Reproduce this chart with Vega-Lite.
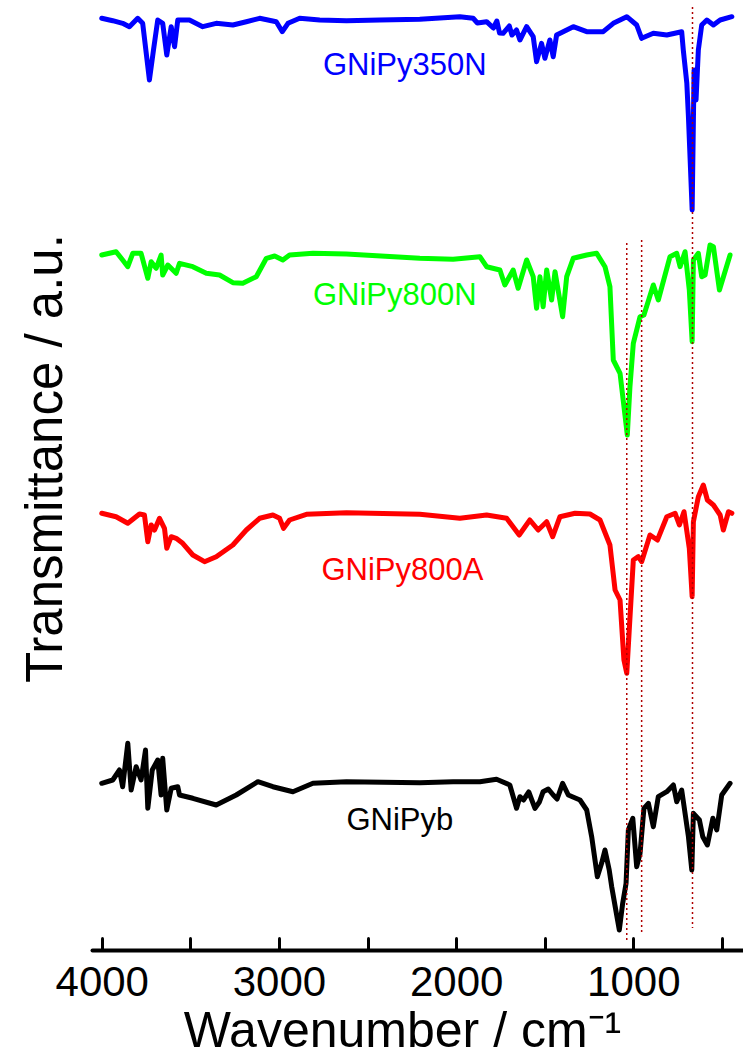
{
  "$schema": "https://vega.github.io/schema/vega-lite/v6.json",
  "width": 651,
  "height": 950,
  "autosize": {"type": "none"},
  "padding": {"left": 92, "top": 0, "right": 0, "bottom": 107},
  "background": "white",
  "config": {"view": {"stroke": null}},
  "datasets": {
    "spectra": [
      {"sample": "GNiPy350N", "w": 4000, "t": 92.97}, {"sample": "GNiPy350N", "w": 3938, "t": 92.73}, {"sample": "GNiPy350N", "w": 3882, "t": 92.47}, {"sample": "GNiPy350N", "w": 3844, "t": 92.13}, {"sample": "GNiPy350N", "w": 3797, "t": 92.97}, {"sample": "GNiPy350N", "w": 3769, "t": 92.47}, {"sample": "GNiPy350N", "w": 3731, "t": 86.8}, {"sample": "GNiPy350N", "w": 3708, "t": 89.8}, {"sample": "GNiPy350N", "w": 3684, "t": 92.8}, {"sample": "GNiPy350N", "w": 3656, "t": 92.47}, {"sample": "GNiPy350N", "w": 3633, "t": 89.3}, {"sample": "GNiPy350N", "w": 3608, "t": 92.13}, {"sample": "GNiPy350N", "w": 3589, "t": 90.13}, {"sample": "GNiPy350N", "w": 3571, "t": 92.8}, {"sample": "GNiPy350N", "w": 3505, "t": 92.8}, {"sample": "GNiPy350N", "w": 3430, "t": 92.13}, {"sample": "GNiPy350N", "w": 3354, "t": 92.47}, {"sample": "GNiPy350N", "w": 3260, "t": 92.3}, {"sample": "GNiPy350N", "w": 3184, "t": 92.63}, {"sample": "GNiPy350N", "w": 3109, "t": 92.97}, {"sample": "GNiPy350N", "w": 3015, "t": 92.63}, {"sample": "GNiPy350N", "w": 2981, "t": 91.63}, {"sample": "GNiPy350N", "w": 2949, "t": 92.47}, {"sample": "GNiPy350N", "w": 2883, "t": 92.97}, {"sample": "GNiPy350N", "w": 2770, "t": 92.8}, {"sample": "GNiPy350N", "w": 2619, "t": 92.73}, {"sample": "GNiPy350N", "w": 2431, "t": 92.8}, {"sample": "GNiPy350N", "w": 2205, "t": 92.87}, {"sample": "GNiPy350N", "w": 1979, "t": 93.13}, {"sample": "GNiPy350N", "w": 1904, "t": 92.97}, {"sample": "GNiPy350N", "w": 1880, "t": 92.5}, {"sample": "GNiPy350N", "w": 1828, "t": 92.63}, {"sample": "GNiPy350N", "w": 1790, "t": 92.0}, {"sample": "GNiPy350N", "w": 1770, "t": 92.7}, {"sample": "GNiPy350N", "w": 1755, "t": 91.5}, {"sample": "GNiPy350N", "w": 1735, "t": 91.47}, {"sample": "GNiPy350N", "w": 1700, "t": 92.2}, {"sample": "GNiPy350N", "w": 1685, "t": 91.3}, {"sample": "GNiPy350N", "w": 1659, "t": 91.8}, {"sample": "GNiPy350N", "w": 1640, "t": 90.8}, {"sample": "GNiPy350N", "w": 1602, "t": 92.13}, {"sample": "GNiPy350N", "w": 1565, "t": 91.13}, {"sample": "GNiPy350N", "w": 1546, "t": 88.63}, {"sample": "GNiPy350N", "w": 1518, "t": 90.47}, {"sample": "GNiPy350N", "w": 1499, "t": 88.97}, {"sample": "GNiPy350N", "w": 1471, "t": 90.8}, {"sample": "GNiPy350N", "w": 1452, "t": 89.13}, {"sample": "GNiPy350N", "w": 1433, "t": 91.3}, {"sample": "GNiPy350N", "w": 1339, "t": 92.13}, {"sample": "GNiPy350N", "w": 1263, "t": 91.63}, {"sample": "GNiPy350N", "w": 1170, "t": 91.63}, {"sample": "GNiPy350N", "w": 1113, "t": 92.47}, {"sample": "GNiPy350N", "w": 1037, "t": 93.13}, {"sample": "GNiPy350N", "w": 981, "t": 92.3}, {"sample": "GNiPy350N", "w": 953, "t": 90.97}, {"sample": "GNiPy350N", "w": 887, "t": 91.47}, {"sample": "GNiPy350N", "w": 811, "t": 91.3}, {"sample": "GNiPy350N", "w": 727, "t": 91.63}, {"sample": "GNiPy350N", "w": 718, "t": 89.8}, {"sample": "GNiPy350N", "w": 698, "t": 86.47}, {"sample": "GNiPy350N", "w": 689, "t": 83.13}, {"sample": "GNiPy350N", "w": 668, "t": 73.8}, {"sample": "GNiPy350N", "w": 657, "t": 87.8}, {"sample": "GNiPy350N", "w": 646, "t": 84.8}, {"sample": "GNiPy350N", "w": 633, "t": 89.8}, {"sample": "GNiPy350N", "w": 614, "t": 92.3}, {"sample": "GNiPy350N", "w": 585, "t": 92.8}, {"sample": "GNiPy350N", "w": 548, "t": 92.3}, {"sample": "GNiPy350N", "w": 510, "t": 92.8}, {"sample": "GNiPy350N", "w": 444, "t": 93.13},

      {"sample": "GNiPy800N", "w": 4000, "t": 69.3}, {"sample": "GNiPy800N", "w": 3919, "t": 69.63}, {"sample": "GNiPy800N", "w": 3882, "t": 68.8}, {"sample": "GNiPy800N", "w": 3853, "t": 68.13}, {"sample": "GNiPy800N", "w": 3825, "t": 69.47}, {"sample": "GNiPy800N", "w": 3778, "t": 69.47}, {"sample": "GNiPy800N", "w": 3740, "t": 66.97}, {"sample": "GNiPy800N", "w": 3721, "t": 68.63}, {"sample": "GNiPy800N", "w": 3693, "t": 67.97}, {"sample": "GNiPy800N", "w": 3665, "t": 69.3}, {"sample": "GNiPy800N", "w": 3656, "t": 67.3}, {"sample": "GNiPy800N", "w": 3627, "t": 68.3}, {"sample": "GNiPy800N", "w": 3580, "t": 67.47}, {"sample": "GNiPy800N", "w": 3561, "t": 68.47}, {"sample": "GNiPy800N", "w": 3486, "t": 68.13}, {"sample": "GNiPy800N", "w": 3410, "t": 67.47}, {"sample": "GNiPy800N", "w": 3335, "t": 67.3}, {"sample": "GNiPy800N", "w": 3260, "t": 66.53}, {"sample": "GNiPy800N", "w": 3204, "t": 66.47}, {"sample": "GNiPy800N", "w": 3128, "t": 67.13}, {"sample": "GNiPy800N", "w": 3071, "t": 68.97}, {"sample": "GNiPy800N", "w": 3024, "t": 69.2}, {"sample": "GNiPy800N", "w": 2978, "t": 68.8}, {"sample": "GNiPy800N", "w": 2940, "t": 69.3}, {"sample": "GNiPy800N", "w": 2808, "t": 69.47}, {"sample": "GNiPy800N", "w": 2619, "t": 69.4}, {"sample": "GNiPy800N", "w": 2205, "t": 68.97}, {"sample": "GNiPy800N", "w": 2017, "t": 68.87}, {"sample": "GNiPy800N", "w": 1866, "t": 69.13}, {"sample": "GNiPy800N", "w": 1828, "t": 68.13}, {"sample": "GNiPy800N", "w": 1753, "t": 67.8}, {"sample": "GNiPy800N", "w": 1725, "t": 66.3}, {"sample": "GNiPy800N", "w": 1678, "t": 67.8}, {"sample": "GNiPy800N", "w": 1650, "t": 65.97}, {"sample": "GNiPy800N", "w": 1602, "t": 68.8}, {"sample": "GNiPy800N", "w": 1565, "t": 67.13}, {"sample": "GNiPy800N", "w": 1546, "t": 63.97}, {"sample": "GNiPy800N", "w": 1527, "t": 67.13}, {"sample": "GNiPy800N", "w": 1509, "t": 64.13}, {"sample": "GNiPy800N", "w": 1489, "t": 67.8}, {"sample": "GNiPy800N", "w": 1461, "t": 64.8}, {"sample": "GNiPy800N", "w": 1442, "t": 67.63}, {"sample": "GNiPy800N", "w": 1399, "t": 63.13}, {"sample": "GNiPy800N", "w": 1376, "t": 67.13}, {"sample": "GNiPy800N", "w": 1339, "t": 68.97}, {"sample": "GNiPy800N", "w": 1263, "t": 69.3}, {"sample": "GNiPy800N", "w": 1207, "t": 69.47}, {"sample": "GNiPy800N", "w": 1160, "t": 68.13}, {"sample": "GNiPy800N", "w": 1132, "t": 66.13}, {"sample": "GNiPy800N", "w": 1113, "t": 58.8}, {"sample": "GNiPy800N", "w": 1075, "t": 57.47}, {"sample": "GNiPy800N", "w": 1034, "t": 51.3}, {"sample": "GNiPy800N", "w": 1019, "t": 56.13}, {"sample": "GNiPy800N", "w": 1000, "t": 60.47}, {"sample": "GNiPy800N", "w": 962, "t": 63.13}, {"sample": "GNiPy800N", "w": 940, "t": 63.3}, {"sample": "GNiPy800N", "w": 887, "t": 66.3}, {"sample": "GNiPy800N", "w": 859, "t": 64.8}, {"sample": "GNiPy800N", "w": 793, "t": 69.13}, {"sample": "GNiPy800N", "w": 755, "t": 69.47}, {"sample": "GNiPy800N", "w": 736, "t": 68.13}, {"sample": "GNiPy800N", "w": 708, "t": 69.63}, {"sample": "GNiPy800N", "w": 684, "t": 65.8}, {"sample": "GNiPy800N", "w": 668, "t": 60.63}, {"sample": "GNiPy800N", "w": 661, "t": 68.8}, {"sample": "GNiPy800N", "w": 633, "t": 69.47}, {"sample": "GNiPy800N", "w": 614, "t": 67.13}, {"sample": "GNiPy800N", "w": 595, "t": 67.3}, {"sample": "GNiPy800N", "w": 567, "t": 70.3}, {"sample": "GNiPy800N", "w": 548, "t": 70.13}, {"sample": "GNiPy800N", "w": 514, "t": 65.8}, {"sample": "GNiPy800N", "w": 454, "t": 69.3},

      {"sample": "GNiPy800A", "w": 4000, "t": 43.47}, {"sample": "GNiPy800A", "w": 3919, "t": 43.13}, {"sample": "GNiPy800A", "w": 3853, "t": 42.47}, {"sample": "GNiPy800A", "w": 3787, "t": 43.4}, {"sample": "GNiPy800A", "w": 3759, "t": 43.3}, {"sample": "GNiPy800A", "w": 3740, "t": 40.63}, {"sample": "GNiPy800A", "w": 3721, "t": 42.3}, {"sample": "GNiPy800A", "w": 3702, "t": 41.8}, {"sample": "GNiPy800A", "w": 3674, "t": 42.97}, {"sample": "GNiPy800A", "w": 3646, "t": 41.97}, {"sample": "GNiPy800A", "w": 3633, "t": 39.97}, {"sample": "GNiPy800A", "w": 3608, "t": 41.13}, {"sample": "GNiPy800A", "w": 3580, "t": 40.97}, {"sample": "GNiPy800A", "w": 3543, "t": 40.47}, {"sample": "GNiPy800A", "w": 3486, "t": 39.3}, {"sample": "GNiPy800A", "w": 3420, "t": 38.63}, {"sample": "GNiPy800A", "w": 3354, "t": 39.13}, {"sample": "GNiPy800A", "w": 3260, "t": 40.3}, {"sample": "GNiPy800A", "w": 3184, "t": 41.8}, {"sample": "GNiPy800A", "w": 3109, "t": 42.97}, {"sample": "GNiPy800A", "w": 3034, "t": 43.3}, {"sample": "GNiPy800A", "w": 2996, "t": 42.97}, {"sample": "GNiPy800A", "w": 2974, "t": 41.97}, {"sample": "GNiPy800A", "w": 2940, "t": 42.8}, {"sample": "GNiPy800A", "w": 2845, "t": 43.37}, {"sample": "GNiPy800A", "w": 2619, "t": 43.53}, {"sample": "GNiPy800A", "w": 2205, "t": 43.37}, {"sample": "GNiPy800A", "w": 1979, "t": 42.97}, {"sample": "GNiPy800A", "w": 1828, "t": 43.3}, {"sample": "GNiPy800A", "w": 1715, "t": 42.97}, {"sample": "GNiPy800A", "w": 1644, "t": 41.3}, {"sample": "GNiPy800A", "w": 1584, "t": 42.8}, {"sample": "GNiPy800A", "w": 1537, "t": 41.8}, {"sample": "GNiPy800A", "w": 1489, "t": 42.63}, {"sample": "GNiPy800A", "w": 1455, "t": 41.13}, {"sample": "GNiPy800A", "w": 1414, "t": 43.13}, {"sample": "GNiPy800A", "w": 1329, "t": 43.47}, {"sample": "GNiPy800A", "w": 1245, "t": 43.4}, {"sample": "GNiPy800A", "w": 1188, "t": 42.8}, {"sample": "GNiPy800A", "w": 1132, "t": 40.3}, {"sample": "GNiPy800A", "w": 1103, "t": 35.8}, {"sample": "GNiPy800A", "w": 1075, "t": 34.8}, {"sample": "GNiPy800A", "w": 1053, "t": 28.8}, {"sample": "GNiPy800A", "w": 1037, "t": 27.47}, {"sample": "GNiPy800A", "w": 1023, "t": 31.8}, {"sample": "GNiPy800A", "w": 1000, "t": 38.8}, {"sample": "GNiPy800A", "w": 972, "t": 39.13}, {"sample": "GNiPy800A", "w": 953, "t": 38.63}, {"sample": "GNiPy800A", "w": 906, "t": 41.3}, {"sample": "GNiPy800A", "w": 864, "t": 40.8}, {"sample": "GNiPy800A", "w": 811, "t": 43.13}, {"sample": "GNiPy800A", "w": 764, "t": 43.47}, {"sample": "GNiPy800A", "w": 740, "t": 42.3}, {"sample": "GNiPy800A", "w": 714, "t": 43.63}, {"sample": "GNiPy800A", "w": 684, "t": 39.97}, {"sample": "GNiPy800A", "w": 668, "t": 35.13}, {"sample": "GNiPy800A", "w": 661, "t": 42.63}, {"sample": "GNiPy800A", "w": 633, "t": 45.13}, {"sample": "GNiPy800A", "w": 605, "t": 46.3}, {"sample": "GNiPy800A", "w": 582, "t": 44.8}, {"sample": "GNiPy800A", "w": 548, "t": 44.3}, {"sample": "GNiPy800A", "w": 510, "t": 43.3}, {"sample": "GNiPy800A", "w": 492, "t": 41.8}, {"sample": "GNiPy800A", "w": 463, "t": 43.63}, {"sample": "GNiPy800A", "w": 444, "t": 43.47},

      {"sample": "GNiPyb", "w": 4000, "t": 16.47}, {"sample": "GNiPyb", "w": 3938, "t": 16.8}, {"sample": "GNiPyb", "w": 3900, "t": 17.8}, {"sample": "GNiPyb", "w": 3882, "t": 16.13}, {"sample": "GNiPyb", "w": 3853, "t": 20.47}, {"sample": "GNiPyb", "w": 3834, "t": 15.8}, {"sample": "GNiPyb", "w": 3806, "t": 18.13}, {"sample": "GNiPyb", "w": 3778, "t": 16.8}, {"sample": "GNiPyb", "w": 3753, "t": 19.8}, {"sample": "GNiPyb", "w": 3740, "t": 13.97}, {"sample": "GNiPyb", "w": 3715, "t": 17.8}, {"sample": "GNiPyb", "w": 3684, "t": 18.8}, {"sample": "GNiPyb", "w": 3665, "t": 15.3}, {"sample": "GNiPyb", "w": 3656, "t": 18.97}, {"sample": "GNiPyb", "w": 3633, "t": 13.8}, {"sample": "GNiPyb", "w": 3608, "t": 15.97}, {"sample": "GNiPyb", "w": 3571, "t": 16.13}, {"sample": "GNiPyb", "w": 3561, "t": 15.3}, {"sample": "GNiPyb", "w": 3486, "t": 14.97}, {"sample": "GNiPyb", "w": 3354, "t": 14.3}, {"sample": "GNiPyb", "w": 3241, "t": 15.3}, {"sample": "GNiPyb", "w": 3119, "t": 16.63}, {"sample": "GNiPyb", "w": 3034, "t": 16.13}, {"sample": "GNiPyb", "w": 2921, "t": 15.63}, {"sample": "GNiPyb", "w": 2808, "t": 16.47}, {"sample": "GNiPyb", "w": 2619, "t": 16.63}, {"sample": "GNiPyb", "w": 2205, "t": 16.53}, {"sample": "GNiPyb", "w": 2017, "t": 16.63}, {"sample": "GNiPyb", "w": 1866, "t": 16.63}, {"sample": "GNiPyb", "w": 1772, "t": 16.87}, {"sample": "GNiPyb", "w": 1697, "t": 16.3}, {"sample": "GNiPyb", "w": 1659, "t": 13.97}, {"sample": "GNiPyb", "w": 1640, "t": 15.13}, {"sample": "GNiPyb", "w": 1620, "t": 14.8}, {"sample": "GNiPyb", "w": 1590, "t": 15.6}, {"sample": "GNiPyb", "w": 1555, "t": 13.97}, {"sample": "GNiPyb", "w": 1530, "t": 14.6}, {"sample": "GNiPyb", "w": 1509, "t": 15.63}, {"sample": "GNiPyb", "w": 1480, "t": 15.9}, {"sample": "GNiPyb", "w": 1452, "t": 15.3}, {"sample": "GNiPyb", "w": 1430, "t": 14.9}, {"sample": "GNiPyb", "w": 1399, "t": 16.47}, {"sample": "GNiPyb", "w": 1367, "t": 15.3}, {"sample": "GNiPyb", "w": 1301, "t": 14.8}, {"sample": "GNiPyb", "w": 1263, "t": 13.8}, {"sample": "GNiPyb", "w": 1235, "t": 11.13}, {"sample": "GNiPyb", "w": 1203, "t": 7.13}, {"sample": "GNiPyb", "w": 1179, "t": 8.47}, {"sample": "GNiPyb", "w": 1160, "t": 9.8}, {"sample": "GNiPyb", "w": 1136, "t": 7.8}, {"sample": "GNiPyb", "w": 1122, "t": 6.13}, {"sample": "GNiPyb", "w": 1094, "t": 3.3}, {"sample": "GNiPyb", "w": 1079, "t": 1.8}, {"sample": "GNiPyb", "w": 1060, "t": 4.47}, {"sample": "GNiPyb", "w": 1041, "t": 6.47}, {"sample": "GNiPyb", "w": 1028, "t": 11.8}, {"sample": "GNiPyb", "w": 1003, "t": 12.97}, {"sample": "GNiPyb", "w": 981, "t": 8.13}, {"sample": "GNiPyb", "w": 962, "t": 9.47}, {"sample": "GNiPyb", "w": 940, "t": 13.97}, {"sample": "GNiPyb", "w": 915, "t": 14.47}, {"sample": "GNiPyb", "w": 887, "t": 12.13}, {"sample": "GNiPyb", "w": 859, "t": 15.13}, {"sample": "GNiPyb", "w": 811, "t": 15.63}, {"sample": "GNiPyb", "w": 774, "t": 16.3}, {"sample": "GNiPyb", "w": 755, "t": 14.63}, {"sample": "GNiPyb", "w": 727, "t": 15.8}, {"sample": "GNiPyb", "w": 689, "t": 11.13}, {"sample": "GNiPyb", "w": 670, "t": 7.8}, {"sample": "GNiPyb", "w": 661, "t": 13.47}, {"sample": "GNiPyb", "w": 627, "t": 12.8}, {"sample": "GNiPyb", "w": 608, "t": 11.13}, {"sample": "GNiPyb", "w": 582, "t": 10.3}, {"sample": "GNiPyb", "w": 551, "t": 12.97}, {"sample": "GNiPyb", "w": 529, "t": 11.8}, {"sample": "GNiPyb", "w": 501, "t": 15.3}, {"sample": "GNiPyb", "w": 454, "t": 16.47}
    ],
    "bands": [
      {"w": 1037, "top": 70.5, "bottom": 0.8},
      {"w": 953, "top": 70.8, "bottom": 1.3},
      {"w": 666, "top": 94.1, "bottom": 2.0}
    ],
    "names": [
      {"sample": "GNiPy350N", "w": 2752, "t": 87.3},
      {"sample": "GNiPy800N", "w": 2808, "t": 64.3},
      {"sample": "GNiPy800A", "w": 2760, "t": 36.8},
      {"sample": "GNiPyb", "w": 2619, "t": 11.8}
    ]
  },
  "layer": [
    {
      "data": {"name": "spectra"},
      "mark": {"type": "line", "strokeWidth": 5, "strokeCap": "round", "strokeJoin": "round", "clip": false},
      "encoding": {
        "x": {
          "field": "w",
          "type": "quantitative",
          "scale": {"domain": [381, 4055], "reverse": true, "nice": false, "zero": false},
          "axis": {
            "orient": "bottom",
            "values": [4000, 3500, 3000, 2500, 2000, 1500, 1000, 500],
            "format": "d",
            "labelExpr": "datum.value % 1000 === 0 ? datum.label : ''",
            "grid": false,
            "domainColor": "black",
            "domainWidth": 4,
            "domainCap": "round",
            "tickColor": "black",
            "tickWidth": 3,
            "tickCap": "round",
            "tickSize": -12,
            "labelFont": "Liberation Sans",
            "labelFontSize": 42,
            "labelColor": "black",
            "labelPadding": 24,
            "labelOverlap": false,
            "labelFlush": false,
            "title": "Wavenumber / cm⁻¹",
            "titleFont": "Liberation Sans",
            "titleFontSize": 50,
            "titleFontWeight": "normal",
            "titleColor": "black",
            "titleBaseline": "alphabetic",
            "titleAlign": "center",
            "titleX": 310,
            "titleY": 96,
            "encode": {
              "ticks": {"update": {"y2": {"signal": "datum.value % 1000 === 0 ? -12 : -7"}}}
            }
          }
        },
        "y": {
          "field": "t",
          "type": "quantitative",
          "scale": {"domain": [-0.2, 94.8], "nice": false, "zero": false},
          "axis": {
            "domain": false,
            "ticks": false,
            "labels": false,
            "grid": false,
            "title": "Transmittance / a.u.",
            "titleFont": "Liberation Sans",
            "titleFontSize": 51,
            "titleFontWeight": "normal",
            "titleColor": "black",
            "titleAngle": 270,
            "titleBaseline": "alphabetic",
            "titleAlign": "center",
            "titleX": -31,
            "titleY": 458
          }
        },
        "color": {
          "field": "sample",
          "type": "nominal",
          "scale": {"domain": ["GNiPy350N", "GNiPy800N", "GNiPy800A", "GNiPyb"], "range": ["#0000ff", "#00ff00", "#ff0000", "#000000"]},
          "legend": null
        }
      }
    },
    {
      "data": {"name": "names"},
      "mark": {"type": "text", "align": "left", "baseline": "alphabetic", "font": "Liberation Sans", "fontSize": 31},
      "encoding": {
        "x": {"field": "w", "type": "quantitative"},
        "y": {"field": "t", "type": "quantitative"},
        "text": {"field": "sample"},
        "color": {"field": "sample", "type": "nominal", "legend": null}
      }
    },
    {
      "data": {"name": "bands"},
      "mark": {"type": "rule", "color": "#b00000", "strokeWidth": 1.5, "strokeDash": [2, 3]},
      "encoding": {
        "x": {"field": "w", "type": "quantitative"},
        "y": {"field": "top", "type": "quantitative"},
        "y2": {"field": "bottom"}
      }
    }
  ]
}
